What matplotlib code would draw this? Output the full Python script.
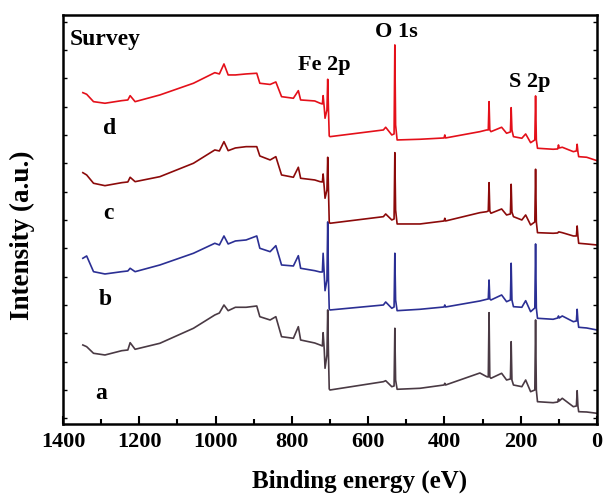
import numpy as np
import matplotlib
matplotlib.use("Agg")
import matplotlib.pyplot as plt

# Binding energy grid (eV)
energy = [1348, 1338, 1320, 1290, 1246, 1230, 1224, 1211, 1146, 1058,
          1002, 990, 978, 967, 948, 920, 892, 884, 857, 842,
          827, 796, 783, 777, 740, 726, 720, 718, 715, 713,
          708, 706, 704, 702, 700, 560, 554, 538, 532, 530,
          528, 524, 464, 401, 399, 397, 307, 289, 285, 283,
          281, 278, 250, 237, 227, 225, 223, 219, 197, 187,
          174, 163, 161, 159, 156, 115, 103, 101, 99, 91,
          62, 54, 52, 50, 48, 27, 0]

# Intensities (a.u., offset curves)
curve_d = [331.3, 329.7, 322.3, 320.7, 323.3, 324, 328.3, 322.3, 329, 340.7,
           351.3, 350, 360, 349, 349, 350, 350.7, 340.7, 339.5, 342,
           327.3, 325.7, 333.3, 324, 323, 320.7, 320, 328.3, 316, 305.7,
           314, 344.7, 314, 288, 287.3, 294, 296.7, 289, 290, 379,
           299, 284, 284.7, 286, 289, 286, 292.3, 294, 294, 322.3,
           294, 292.3, 296.7, 290.7, 292, 316.3, 294, 287.3, 285.7, 290,
           281.3, 284, 328, 284, 275.7, 274.7, 275, 279, 276, 276.7,
           272.3, 273, 279.7, 272, 267.3, 266.7, 263.3]
curve_c = [251.3, 249, 240.7, 238.3, 241.3, 242, 246.7, 242.3, 247.3, 260.7,
           274, 273, 282.3, 273.3, 276, 277.3, 277.3, 268, 264, 267.3,
           249, 246.7, 256.7, 245.7, 244, 242.3, 242, 250, 236, 225.7,
           234, 266.7, 234, 202, 200.7, 207.3, 210, 204, 205, 271.3,
           214, 200, 200, 203, 205.7, 203, 211.3, 212.3, 213, 241.3,
           213, 210.7, 215, 209, 210, 239.7, 212, 207.3, 204, 209,
           199, 202, 254.7, 202, 191.3, 190.7, 191, 192, 192, 191.3,
           188, 188, 198, 188, 180.7, 180, 179]
curve_b = [165.7, 168, 152.3, 150, 152.3, 153, 155.7, 152.3, 159, 170.7,
           180.7, 179, 188, 180, 183, 184, 188, 175.7, 172.3, 178.3,
           159, 158, 168.3, 155.7, 153.3, 152, 152, 170.7, 149, 133.3,
           144, 202, 144, 115, 114, 119, 122, 115.7, 117, 170.7,
           124, 113.3, 114.7, 117, 119, 117, 123, 124.7, 125, 144,
           125, 124, 129, 122.3, 124, 160.7, 124, 117.3, 116.7, 123.3,
           112.3, 116, 180, 116, 105.7, 104.7, 106, 108, 106, 108,
           102.3, 103, 114.7, 103, 96.7, 96, 94]
curve_a = [79, 77.3, 70.7, 69, 73.3, 74, 81.3, 74.7, 80.7, 95.7,
           109, 111, 119, 113.3, 116.7, 116.7, 118, 107.3, 104, 107.3,
           87.3, 85.7, 97.3, 84, 81, 79, 78, 91.3, 74, 55.7,
           69, 114, 69, 35, 34, 42.3, 43.3, 37.3, 38, 95.7,
           44, 34.7, 35.7, 39, 40.7, 39, 51, 47.3, 47, 111.3,
           47, 45.7, 50.7, 44, 45, 82.3, 44, 39, 37.3, 44,
           32.3, 34, 104, 34, 22.3, 21.3, 22, 25, 23, 25.7,
           17.3, 18, 33.3, 18, 12.3, 12, 10.7]

labels = ["a", "b", "c", "d"]
colors = ["#4a3a44", "#2b2f94", "#8c0a0a", "#e4101a"]
series = [curve_a, curve_b, curve_c, curve_d]
label_pos = [(1301, 30.7), (1288, 124), (1281, 210), (1277, 295.7)]
peak_names = ["Fe 2p", "O 1s", "S 2p"]
peak_pos = [(716, 359), (527, 392.3), (176, 342.3)]

plt.rcParams['font.family'] = ['Liberation Serif', 'DejaVu Serif']
plt.rcParams['font.weight'] = 'bold'

fig = plt.figure(figsize=(6.07, 4.98), dpi=100)
ax = fig.add_axes([0.1038, 0.1486, 0.8797, 0.8214])

for y, c in zip(series, colors):
    ax.plot(energy, y, color=c, lw=1.2)

for t, (x, y) in zip(labels, label_pos):
    ax.text(x, y, t, ha='center', va='center', fontsize=17, fontweight='bold')
for t, (x, y) in zip(peak_names, peak_pos):
    ax.text(x, y, t, ha='center', va='center', fontsize=16, fontweight='bold')
ax.text(1382, 384, "Survey", ha='left', va='center', fontsize=17, fontweight='bold')

ax.set_xlim(1400, 0)
ax.set_ylim(0, 409)
ax.set_xticks(np.arange(0, 1401, 200))
ax.set_xticks(np.arange(100, 1400, 200), minor=True)
ax.set_yticks(np.arange(5.7, 409, 28.33))
ax.set_yticklabels([])
ax.tick_params(axis='x', which='major', direction='in', length=6, width=1.5,
               labelsize=16, pad=6, top=False)
ax.tick_params(axis='x', which='minor', direction='in', length=3.5, width=1.5, top=False)
ax.tick_params(axis='y', which='major', direction='in', length=3, width=1,
               left=True, right=True)
for lab in ax.get_xticklabels():
    lab.set_fontweight('bold')
for s in ax.spines.values():
    s.set_linewidth(1.8)

ax.set_xlabel("Binding energy (eV)", fontsize=18, fontweight='bold')
ax.set_ylabel("Intensity (a.u.)", fontsize=19.5, fontweight='bold')
ax.xaxis.set_label_coords(0.556, -0.112)
ax.yaxis.set_label_coords(-0.052, 0.462)

fig.savefig("out.png", dpi=100)
